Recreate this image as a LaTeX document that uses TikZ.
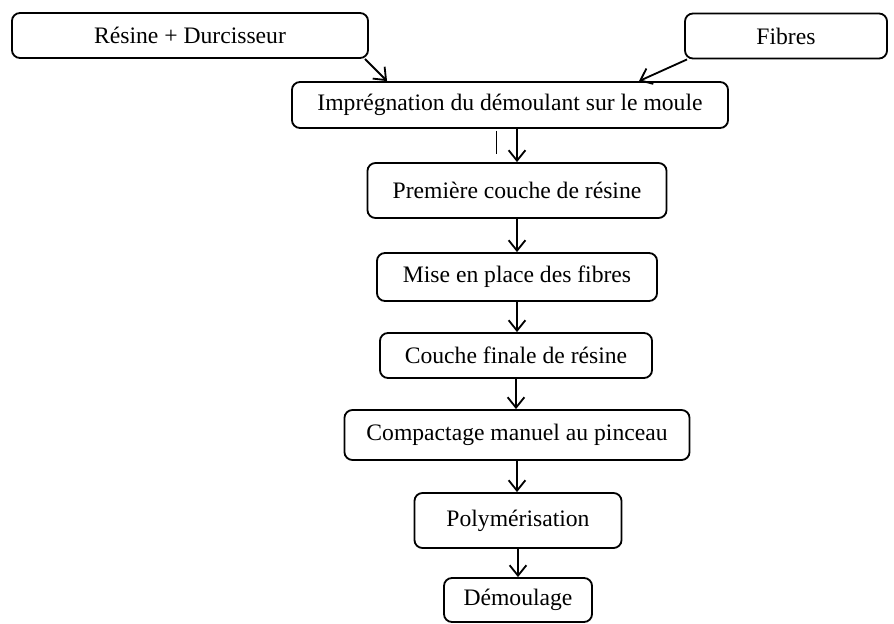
\documentclass[tikz,border=0pt]{standalone}
\usepackage{fontspec}
\setmainfont{Liberation Serif}
\usetikzlibrary{arrows.meta,calc}

\tikzset{
	etape/.style={draw, rounded corners=0.2cm, line width=1.3pt, inner sep=0pt,
		font=\fontsize{16.8}{20}\selectfont},
	fleche/.style={line width=1.3pt, -{Straight Barb[length=2.6mm,width=4.2mm]}}
}

\begin{document}
\begin{tikzpicture}[x=0.025cm, y=-0.025cm]
	\useasboundingbox (0,0) rectangle (894,624);

	\node[etape, minimum width=8.9cm, minimum height=1.125cm] (res) at (190,35.5) {Résine + Durcisseur};
	\node[etape, minimum width=5.05cm, minimum height=1.125cm] (fib) at (786,36) {Fibres};
	\node[etape, minimum width=10.9cm, minimum height=1.15cm] (imp) at (510,105) {Imprégnation du démoulant sur le moule};
	\node[etape, minimum width=7.475cm, minimum height=1.375cm] (prem) at (517,190.5) {Première couche de résine};
	\node[etape, minimum width=7cm, minimum height=1.2cm] (mise) at (517,277) {Mise en place des fibres};
	\node[etape, minimum width=6.8cm, minimum height=1.125cm] (couf) at (516,355.5) {Couche finale de résine};
	\node[etape, minimum width=8.625cm, minimum height=1.25cm] (comp) at (517,435) {Compactage manuel au pinceau};
	\node[etape, minimum width=5.175cm, minimum height=1.375cm] (poly) at (518,520.5) {Polymérisation};
	\node[etape, minimum width=3.7cm, minimum height=1.1cm] (demo) at (518,600) {Démoulage};

	% entrees
	\draw[fleche] ($(res.south east)+(-4,0)$) -- ($(imp.north west)+(96,0)$);
	\draw[fleche] ($(fib.south west)+(3,0)$) -- ($(imp.north west)+(348,0)$);

	% trait isole sous l'impregnation
	\draw[line width=0.6pt] ($(imp.south west)+(205,2)$) -- ($(imp.south west)+(205,25)$);

	% chaine
	\draw[fleche] (imp.south -| prem.north) -- (prem.north);
	\draw[fleche] (prem.south) -- (prem.south |- mise.north);
	\draw[fleche] (mise.south) -- (mise.south |- couf.north);
	\draw[fleche] (couf.south) -- (couf.south |- comp.north);
	\draw[fleche] (comp.south) -- (comp.south |- poly.north);
	\draw[fleche] (poly.south) -- (poly.south |- demo.north);
\end{tikzpicture}
\end{document}
